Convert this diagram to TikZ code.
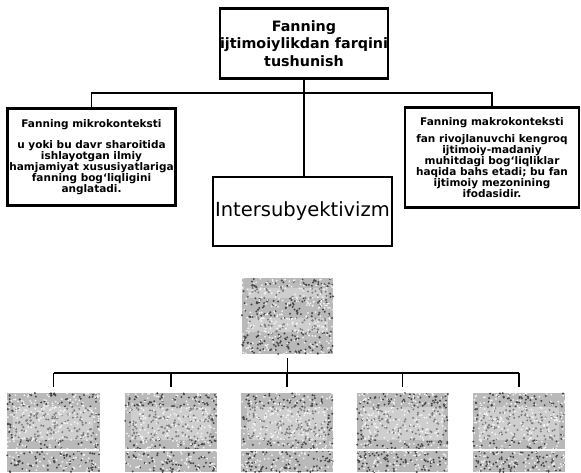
\documentclass[tikz,border=0pt]{standalone}
\usepackage{fontspec}
\setmainfont{DejaVu Sans}
\begin{document}
\begin{tikzpicture}[x=1pt,y=-1pt,
  mainbox/.style={draw, line width=2.4pt, inner sep=0pt, align=center},
  smalltxt/.style={font=\fontsize{10.5}{11}\selectfont\bfseries},
  conn/.style={line width=1.6pt},
  graybox/.style={fill=gray!55, draw=none, inner sep=0pt}
]
\useasboundingbox (0,0) rectangle (581,472);
\fill[white] (0,0) rectangle (581,472);

% top part
\node[mainbox, minimum width=168pt, minimum height=70pt,
      font=\fontsize{14.3}{17.5}\selectfont\bfseries] (top) at (304,43.5)
  {Fanning\\ijtimoiylikdan farqini\\tushunish};
\node[mainbox, minimum width=168pt, minimum height=97pt, smalltxt] (left) at (91.5,157)
  {Fanning mikrokonteksti\\[10pt]u yoki bu davr sharoitida\\ishlayotgan ilmiy\\hamjamiyat xususiyatlariga\\fanning bog‘liqligini\\anglatadi.};
\node[mainbox, minimum width=174pt, minimum height=100pt, smalltxt] (right) at (492,157.5)
  {Fanning makrokonteksti\\[6pt]fan rivojlanuvchi kengroq\\ijtimoiy-madaniy\\muhitdagi bog‘liqliklar\\haqida bahs etadi; bu fan\\ijtimoiy mezonining\\ifodasidir.};
\node[mainbox, minimum width=179pt, minimum height=69pt,
      font=\fontsize{19.5}{21}\selectfont] (mid) at (302.5,211.5) {Intersubyektivizm};

\coordinate (hj) at (304,93);
\draw[conn] (left.north) -- (left.north |- hj) -- (right.north |- hj) -- (right.north);
\draw[conn] (top.south) -- (top.south |- mid.north);

% bottom part (illegible grey boxes)
\node[graybox, minimum width=91pt, minimum height=76pt] (g0) at (287.5,316) {};
\node[graybox, minimum width=93pt, minimum height=79pt] (g1) at (53.5,432.5) {};
\node[graybox, minimum width=92pt, minimum height=79pt] (g2) at (171,432.5) {};
\node[graybox, minimum width=92pt, minimum height=79pt] (g3) at (287,432.5) {};
\node[graybox, minimum width=91pt, minimum height=79pt] (g4) at (402.5,432.5) {};
\node[graybox, minimum width=92pt, minimum height=79pt] (g5) at (519,432.5) {};

\pgfmathsetseed{17}
\foreach \bx/\by/\bw/\bh in {242/278/91/76, 7/393/93/79, 125/393/92/79, 241/393/92/79, 357/393/91/79, 473/393/92/79} {
  \foreach \k in {1,...,300} {\fill[gray!55!black] ({\bx+rnd*\bw},{\by+rnd*\bh}) circle (1.1);}
  \foreach \k in {1,...,260} {\fill[white!90!gray] ({\bx+rnd*\bw},{\by+rnd*\bh}) circle (1.0);}
}
\foreach \bx in {7,125,241,357,473} {
  \fill[white, opacity=0.3] (\bx+6,407) rectangle (\bx+86,440);
  \draw[white, line width=2pt] (\bx,450) -- (\bx+92,450);
}
\fill[white, opacity=0.3] (248,288) rectangle (328,298);
\fill[white, opacity=0.3] (248,318) rectangle (328,332);

\coordinate (hb) at (287,373);
\draw[conn] ([yshift=-4pt]g0.south) -- (g0.south |- hb);
\draw[line width=2pt] (g1.north |- hb) -- (g5.north |- hb);
\foreach \g in {g1,g2,g3,g4,g5} {
  \draw[conn, shorten >=6pt] (\g.north |- hb) -- (\g.north);
}
\end{tikzpicture}
\end{document}
